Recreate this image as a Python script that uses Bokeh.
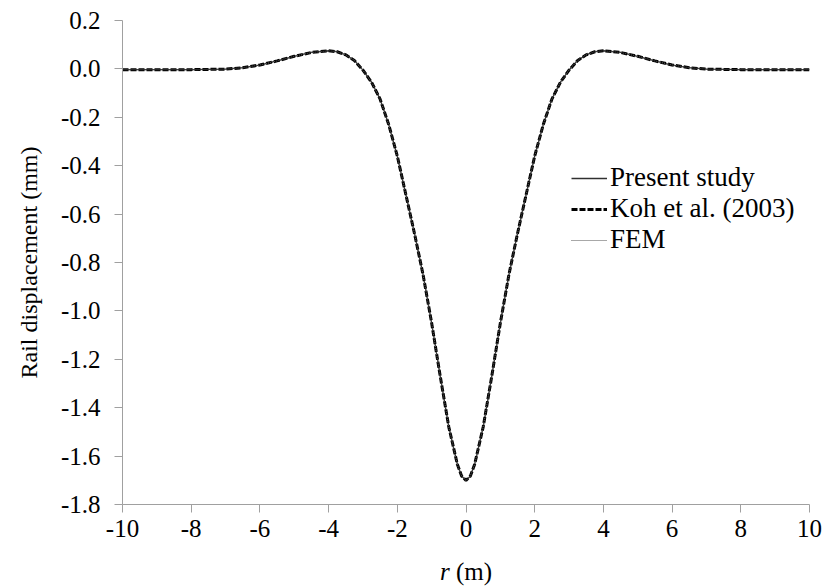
from bokeh.plotting import figure
from bokeh.layouts import column
from bokeh.models import (Range1d, FixedTicker, PrintfTickFormatter, Legend,
                          LegendItem, ColumnDataSource, Div)
from bokeh.embed import file_html
from bokeh.resources import INLINE

# ---- data ----
r_m = [-10, -9, -8, -7, -6.5, -6, -5.5, -5, -4.5, -4, -3.75, -3.5, -3.25, -3,
       -2.75, -2.5, -2.25, -2, -1.75, -1.5, -1.25, -1, -0.75, -0.5, -0.25,
       -0.125, 0, 0.125, 0.25, 0.5, 0.75, 1, 1.25, 1.5, 1.75, 2, 2.25, 2.5,
       2.75, 3, 3.25, 3.5, 3.75, 4, 4.5, 5, 5.5, 6, 6.5, 7, 8, 9, 10]

present_study = [-0.003, -0.003, -0.003, -0.001, 0.005, 0.016, 0.033, 0.052,
                 0.068, 0.075, 0.071, 0.058, 0.035, -0.005, -0.055, -0.125,
                 -0.23, -0.36, -0.52, -0.68, -0.85, -1.05, -1.27, -1.48,
                 -1.635, -1.683, -1.70, -1.683, -1.635, -1.48, -1.27, -1.05,
                 -0.85, -0.68, -0.52, -0.36, -0.23, -0.125, -0.055, -0.005,
                 0.035, 0.058, 0.071, 0.075, 0.068, 0.052, 0.033, 0.016,
                 0.005, -0.001, -0.003, -0.003, -0.003]

koh_2003 = [-0.003, -0.003, -0.003, -0.001, 0.005, 0.016, 0.033, 0.052,
            0.068, 0.075, 0.071, 0.058, 0.035, -0.005, -0.055, -0.125,
            -0.23, -0.36, -0.52, -0.68, -0.85, -1.05, -1.27, -1.48,
            -1.635, -1.683, -1.70, -1.683, -1.635, -1.48, -1.27, -1.05,
            -0.85, -0.68, -0.52, -0.36, -0.23, -0.125, -0.055, -0.005,
            0.035, 0.058, 0.071, 0.075, 0.068, 0.052, 0.033, 0.016,
            0.005, -0.001, -0.003, -0.003, -0.003]

fem = [-0.003, -0.003, -0.003, -0.001, 0.005, 0.016, 0.033, 0.052,
       0.068, 0.075, 0.071, 0.058, 0.035, -0.005, -0.055, -0.125,
       -0.23, -0.36, -0.52, -0.68, -0.85, -1.05, -1.27, -1.48,
       -1.635, -1.683, -1.70, -1.683, -1.635, -1.48, -1.27, -1.05,
       -0.85, -0.68, -0.52, -0.36, -0.23, -0.125, -0.055, -0.005,
       0.035, 0.058, 0.071, 0.075, 0.068, 0.052, 0.033, 0.016,
       0.005, -0.001, -0.003, -0.003, -0.003]

x_ticks = [-10, -8, -6, -4, -2, 0, 2, 4, 6, 8, 10]
y_ticks = [-1.8, -1.6, -1.4, -1.2, -1.0, -0.8, -0.6, -0.4, -0.2, 0.0, 0.2]
series_names = ["Present study", "Koh et al. (2003)", "FEM"]

FONT = "Liberation Serif"
AXIS_COLOR = "#a0a0a0"

p = figure(width=827, height=556, output_backend="svg", toolbar_location=None,
           x_range=Range1d(-10, 10), y_range=Range1d(-1.8, 0.2),
           min_border_left=122, min_border_right=18, min_border_top=20,
           min_border_bottom=52)
p.outline_line_color = None
p.background_fill_color = "white"
p.border_fill_color = "white"
p.xgrid.grid_line_color = None
p.ygrid.grid_line_color = None

src = ColumnDataSource(dict(r=r_m, a=present_study, b=koh_2003, c=fem))
l1 = p.line("r", "a", source=src, line_color="#303030", line_width=1.3)
l2 = p.line("r", "b", source=src, line_color="black", line_width=3,
            line_dash="6 2")
l3 = p.line("r", "c", source=src, line_color="#505050", line_width=1.2,
            line_dash="1 1")

legend = Legend(items=[LegendItem(label=series_names[0], renderers=[l1]),
                       LegendItem(label=series_names[1], renderers=[l2]),
                       LegendItem(label=series_names[2], renderers=[l3])],
                location=(449, 249), orientation="vertical")
legend.border_line_color = None
legend.background_fill_alpha = 0
legend.padding = 0
legend.margin = 0
legend.spacing = 0
legend.glyph_width = 36
legend.glyph_height = 28
legend.label_height = 28
legend.label_standoff = 3
legend.label_text_font = FONT
legend.label_text_font_size = "27px"
legend.label_text_line_height = 1.0
legend.label_text_color = "black"
p.add_layout(legend, "center")

for ax in (p.xaxis[0], p.yaxis[0]):
    ax.axis_line_color = AXIS_COLOR
    ax.axis_line_width = 1
    ax.major_tick_line_color = AXIS_COLOR
    ax.major_tick_in = 0
    ax.major_tick_out = 8
    ax.minor_tick_line_color = None
    ax.major_label_text_font = FONT
    ax.major_label_text_font_size = "25px"
    ax.major_label_text_color = "black"

p.xaxis.ticker = FixedTicker(ticks=x_ticks)
p.yaxis.ticker = FixedTicker(ticks=y_ticks)
p.xaxis.formatter = PrintfTickFormatter(format="%d")
p.yaxis.formatter = PrintfTickFormatter(format="%.1f")
p.xaxis.major_label_standoff = 7
p.yaxis.major_label_standoff = 14

p.yaxis.axis_label = "Rail displacement (mm)"
p.yaxis.axis_label_text_font = FONT
p.yaxis.axis_label_text_font_size = "24px"
p.yaxis.axis_label_text_font_style = "normal"
p.yaxis.axis_label_text_color = "black"
p.yaxis.axis_label_standoff = 16

# x axis title: italic r followed by (m), as real HTML text under the plot
xtitle = Div(
    text=('<div style="padding-left:440px; padding-top:4px; margin:0; '
          'font-family:\'Liberation Serif\'; font-size:25px; line-height:24px; '
          'color:black; white-space:nowrap;"><i>r</i> (m)</div>'),
    width=827, height=30, margin=(0, 0, 0, 0))

layout = column(p, xtitle, spacing=0)
open("out.html", "w").write(file_html(layout, INLINE))
